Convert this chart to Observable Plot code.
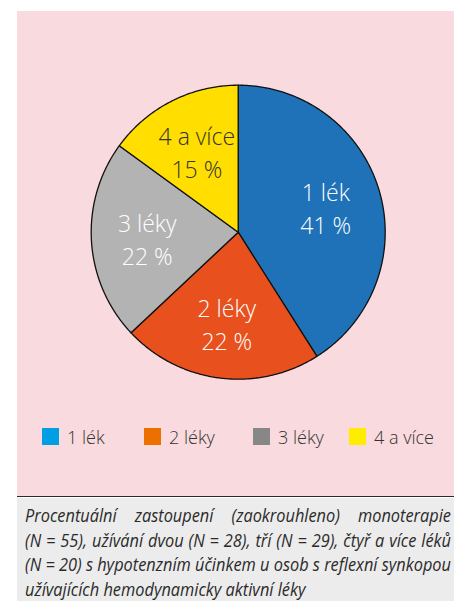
<!DOCTYPE html>
<html>
<head>
<meta charset="utf-8">
<script src="https://cdn.jsdelivr.net/npm/d3@7"></script>
<script src="https://cdn.jsdelivr.net/npm/@observablehq/plot@0.6"></script>
<style>
  html, body { margin: 0; padding: 0; background: #fff; width: 454px; height: 601px; overflow: hidden; }
  #panel { position: absolute; left: 17px; top: 11px; width: 437px; height: 485px; background: #f9dadf; }
  #chart { position: absolute; left: 0; top: 0; }
  #legend { position: absolute; left: 0; top: 417px; width: 437px; height: 17px; font-family: "Open Sans", sans-serif; font-weight: 300; font-size: 18px; color: #333; }
  .item { position: absolute; top: 0; display: flex; align-items: center; height: 17px; white-space: nowrap; }
  .sw { width: 17px; height: 17px; margin-right: 8px; }
  #rule { position: absolute; left: 17px; top: 496px; width: 437px; height: 0; border-top: 1.5px solid #2b2b2b; }
  #caption { position: absolute; left: 17px; top: 498px; width: 437px; height: 103px; background: #ececec; overflow: hidden; }
  #captext { position: absolute; left: 8px; top: 5px; font-family: "Open Sans", sans-serif; font-style: italic; font-weight: 400; font-size: 18px; line-height: 24.5px; color: #2a2a2a; transform-origin: 0 0; }
  .jl { text-align: justify; text-align-last: justify; white-space: nowrap; }
  .ll { text-align: left; white-space: nowrap; }
  .probe { display: inline-block; white-space: nowrap; }
</style>
</head>
<body>
<div id="panel">
  <div id="chart"></div>
  <div id="legend"></div>
</div>
<div id="rule"></div>
<div id="caption"><div id="captext"></div></div>
<script>
// ---- data ----
const categories = ["1 lék", "2 léky", "3 léky", "4 a více"];
const percents = [41, 22, 22, 15];
const sliceColors = ["#1f72b8", "#e8501e", "#b3b3b3", "#ffde00"];
const legendColors = ["#009fe3", "#ec7000", "#878787", "#ffed00"];
const captionLines = [
  "Procentuální zastoupení (zaokrouhleno) monoterapie",
  "(N = 55), užívání dvou (N = 28), tří (N = 29), čtyř a více léků",
  "(N = 20) s hypotenzním účinkem u osob s reflexní synkopou",
  "užívajících hemodynamicky aktivní léky"
];

// ---- geometry from data via d3.pie ----
const arcs = d3.pie().sort(null).value(d => d.value)(
  categories.map((c, i) => ({category: c, value: percents[i]}))
);
const slicePts = [];
for (const a of arcs) {
  const cat = a.data.category;
  slicePts.push({category: cat, x: 0, y: 0});
  const n = Math.max(2, Math.ceil((a.endAngle - a.startAngle) / 0.01));
  for (let k = 0; k <= n; k++) {
    const t = a.startAngle + (a.endAngle - a.startAngle) * k / n;
    slicePts.push({category: cat, x: Math.sin(t), y: Math.cos(t)});
  }
}
const labelR = 0.62;
const labels = arcs.map(a => {
  const m = (a.startAngle + a.endAngle) / 2;
  return {category: a.data.category, x: labelR * Math.sin(m), y: labelR * Math.cos(m),
          text: a.data.category + "\n" + a.data.value + " %"};
});

const W = 437, H = 400, R = 147, cx = 220.7, cy = 220.7;
const chart = Plot.plot({
  width: W, height: H,
  margin: 0,
  style: {background: "transparent", overflow: "visible"},
  x: {domain: [-cx / R, (W - cx) / R], range: [0, W], axis: null},
  y: {domain: [-(H - cy) / R, cy / R], range: [H, 0], axis: null},
  color: {domain: categories, range: sliceColors},
  marks: [
    Plot.line(slicePts, {x: "x", y: "y", z: "category", fill: "category",
      stroke: "#111", strokeWidth: 1.3, curve: "linear-closed", strokeLinejoin: "round"}),
    Plot.text(labels.filter(d => d.category !== "4 a více"), {x: "x", y: "y", text: "text",
      fill: "white", fontSize: 23, fontWeight: 300, fontFamily: "Open Sans", lineHeight: 1.43}),
    Plot.text(labels.filter(d => d.category === "4 a více"), {x: "x", y: "y", text: "text",
      fill: "#333", fontSize: 23, fontWeight: 300, fontFamily: "Open Sans", lineHeight: 1.43})
  ]
});
document.getElementById("chart").appendChild(chart);

// ---- legend ----
const legendX = [25, 127, 236, 332];
const legend = document.getElementById("legend");
categories.forEach((c, i) => {
  const it = document.createElement("div");
  it.className = "item";
  it.style.left = legendX[i] + "px";
  it.innerHTML = `<div class="sw" style="background:${legendColors[i]}"></div><span>${c}</span>`;
  legend.appendChild(it);
});

// ---- caption (fit to the visible width, justified) ----
const cap = document.getElementById("captext");
let maxW = 0;
for (const l of captionLines) {
  const p = document.createElement("span");
  p.className = "probe";
  p.textContent = l;
  cap.appendChild(p);
  maxW = Math.max(maxW, p.getBoundingClientRect().width);
  cap.removeChild(p);
}
const target = 426;
const s = Math.min(1, target / maxW);
cap.style.width = (target / s) + "px";
cap.style.transform = `scaleX(${s})`;
captionLines.forEach((l, i) => {
  const d = document.createElement("div");
  d.className = i < captionLines.length - 1 ? "jl" : "ll";
  d.textContent = l;
  cap.appendChild(d);
});
</script>
</body>
</html>
